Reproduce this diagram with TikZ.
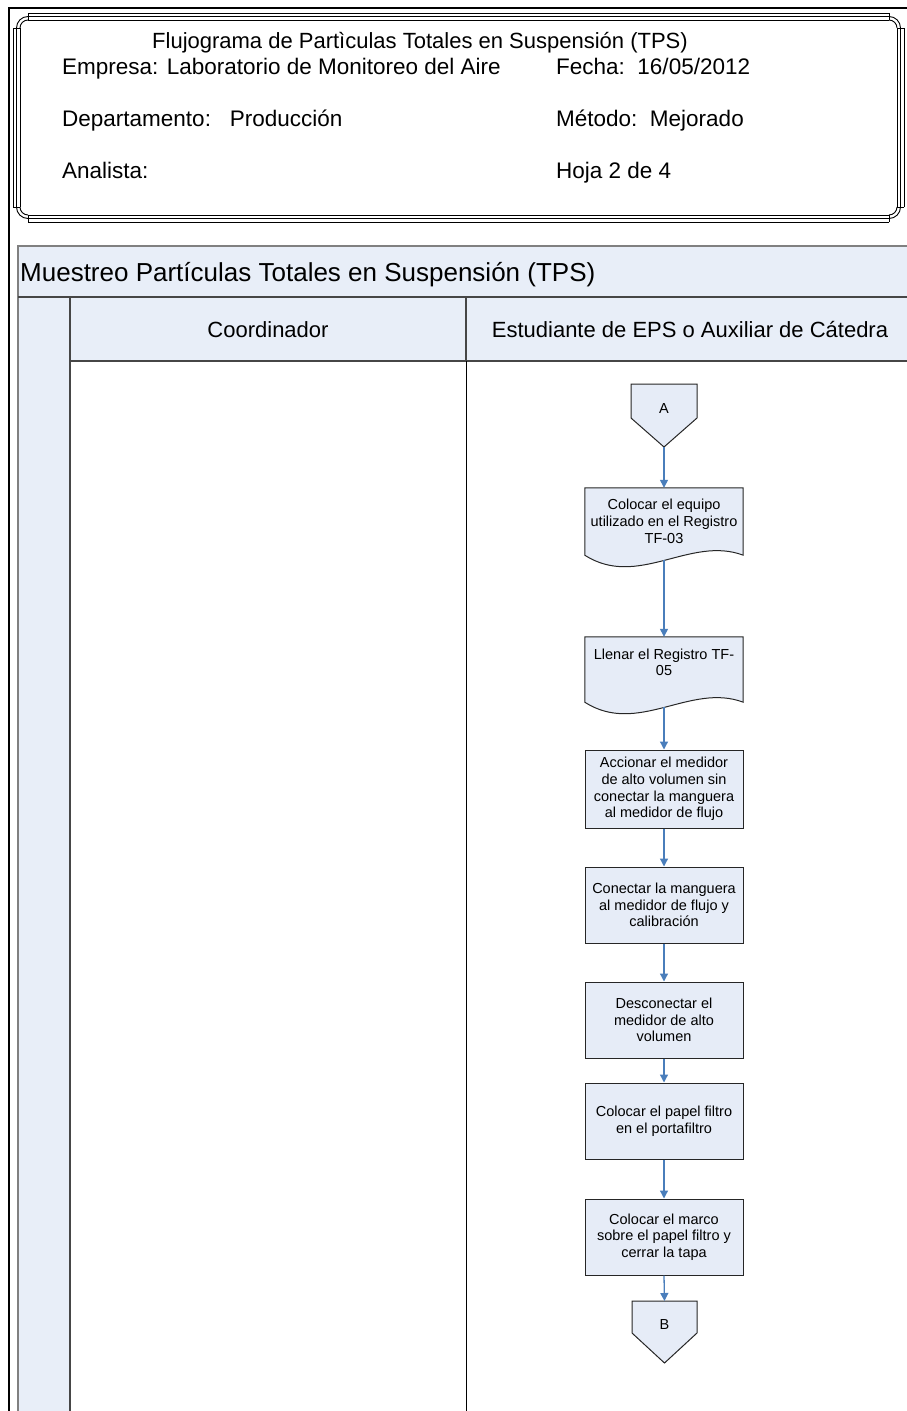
\documentclass[tikz,border=0pt]{standalone}
\usepackage{fontspec}
\setmainfont{Liberation Sans}
\usetikzlibrary{arrows.meta,calc,backgrounds}

\definecolor{lanefill}{RGB}{232,238,248}
\definecolor{shapefill}{RGB}{230,236,247}
\definecolor{flowblue}{RGB}{74,126,187}
\definecolor{laneline}{RGB}{70,70,70}

\tikzset{
  frameline/.style={draw=black, line width=0.9pt},
  lanerule/.style={draw=laneline, line width=1.3pt},
  headtext/.style={inner sep=0pt, anchor=base west, font=\fontsize{22.5}{26}\selectfont},
  lanetitle/.style={inner sep=0pt, anchor=base, font=\fontsize{22}{26}\selectfont},
  boxfont/.style={font=\fontsize{14.5}{16.7}\selectfont},
  stepbox/.style={boxfont, draw=black!85, line width=1pt, fill=shapefill,
    minimum width=158pt, minimum height=76pt, inner sep=0pt, align=center},
  doctext/.style={boxfont, minimum width=158pt, inner sep=0pt, align=center},
  docshape/.style={draw=black!85, line width=1pt, fill=shapefill},
  pagelabel/.style={boxfont, inner sep=0pt},
  flow/.style={draw=flowblue, line width=1.3pt,
    -{Triangle[width=8pt,length=8pt]}, shorten >=0pt},
}

\begin{document}
\begin{tikzpicture}[x=1pt, y=-1pt]
\useasboundingbox (0,0) rectangle (906,1411);

% ---- outer border of the sheet
\draw[line width=2.5pt] (9,1420) -- (9,8) -- (912,8);

% ---- title block frame: three parallel rules with notched corners
\foreach \o in {0,3.5,7} {
  \draw[frameline] (13+15,13+\o) -- (904-15,13+\o);
  \draw[frameline] (13+15,222-\o) -- (904-15,222-\o);
  \draw[frameline] (13+\o,13+15) -- (13+\o,222-15);
  \draw[frameline] (904-\o,13+15) -- (904-\o,222-15);
}
\foreach \cx/\cy/\sx/\sy in {13/13/1/1, 904/13/-1/1, 13/222/1/-1, 904/222/-1/-1} {
  \begin{scope}[shift={(\cx,\cy)}, xscale=\sx, yscale=\sy]
    \draw[frameline] (15,0) -- (15,7) (0,15) -- (7,15);
    \draw[frameline] (7,15) arc[start angle=180, end angle=270, radius=8];
    \draw[frameline] (3.5,15) arc[start angle=180, end angle=270, radius=11.5];
  \end{scope}
}

% ---- title block texts
\node[lanetitle] (hTitle) at (420,48) {Flujograma de Partìculas Totales en Suspensión (TPS)};
\node[headtext] (hEmp) at (62,74) {Empresa: Laboratorio de Monitoreo del Aire};
\node[headtext] (hFecha) at (556,74) {Fecha:\ \ 16/05/2012};
\node[headtext] (hDep) at (62,126) {Departamento:\ \ \ Producción};
\node[headtext] (hMet) at (556,126) {Método:\ \ Mejorado};
\node[headtext] (hAna) at (62,178) {Analista:};
\node[headtext] (hHoja) at (556,178) {Hoja 2 de 4};

% ---- swimlane pool
\fill[lanefill] (18,246) rectangle (912,297);
\fill[lanefill] (70,297) rectangle (912,361);
\fill[lanefill] (18,297) rectangle (70,1420);
\draw[draw=gray, line width=1.3pt] (18,1420) -- (18,246) -- (912,246);
\draw[lanerule] (18,297) -- (912,297);
\draw[lanerule] (70,361) -- (912,361);
\draw[lanerule] (70,297) -- (70,1420);
\draw[lanerule] (466,297) -- (466,361);
\draw[draw=black, line width=1pt] (466,361) -- (466,1420);

\node[inner sep=0pt, anchor=base west, font=\fontsize{26}{30}\selectfont] (pool) at (20,281)
  {Muestreo Partículas Totales en Suspensión (TPS)};
\node[lanetitle] (laneA) at (268,337) {Coordinador};
\node[lanetitle] (laneB) at (690,337) {Estudiante de EPS o Auxiliar de Cátedra};

% ---- flow nodes
\node[pagelabel] (pA) at (664,409) {A};
\coordinate (pAtip) at (664,447);

\node[doctext, minimum height=67pt] (d1) at (664,521.5)
  {Colocar el equipo\\utilizado en el Registro\\TF-03};
\node[doctext, minimum height=65pt] (d2) at (664,669.5)
  {Llenar el Registro TF-\\05\\[-2pt]};

\node[stepbox, minimum height=78pt] (b3) at (664,789)
  {Accionar el medidor\\de alto volumen sin\\conectar la manguera\\al medidor de flujo};
\node[stepbox] (b4) at (664,905)
  {Conectar la manguera\\al medidor de flujo y\\calibración};
\node[stepbox] (b5) at (664,1020)
  {Desconectar el\\medidor de alto\\volumen};
\node[stepbox] (b6) at (664,1121)
  {Colocar el papel filtro\\en el portafiltro};
\node[stepbox] (b7) at (664,1237)
  {Colocar el marco\\sobre el papel filtro y\\cerrar la tapa};

\node[pagelabel] (pB) at (664.5,1324) {B};
\coordinate (pBtop) at (664.5,1301);

% ---- shapes drawn behind the texts
\begin{scope}[on background layer]
  \draw[docshape] (631,384) -- (697,384) -- (697,418) -- (664,447) -- (631,418) -- cycle;
  \draw[docshape] (632,1301) -- (697,1301) -- (697,1333) -- (664.5,1363) -- (632,1333) -- cycle;
  \foreach \d in {d1,d2} {
    \draw[docshape] (\d.south west) -- (\d.north west) -- (\d.north east) -- (\d.south east)
      .. controls +(-53,-20) and +(53,34) .. (\d.south west) -- cycle;
  }
\end{scope}
\coordinate (d1w) at ($(d1.south)+(0,5)$);
\coordinate (d2w) at ($(d2.south)+(0,5)$);

% ---- connectors
\draw[flow] (pAtip) -- (d1.north);
\draw[flow] (d1w) -- (d2.north);
\draw[flow] (d2w) -- (b3.north);
\draw[flow] (b3.south) -- (b4.north);
\draw[flow] (b4.south) -- (b5.north);
\draw[flow] (b5.south) -- (b6.north);
\draw[flow] (b6.south) -- (b7.north);
\draw[flow] (b7.south) -- (pBtop);
\end{tikzpicture}
\end{document}
